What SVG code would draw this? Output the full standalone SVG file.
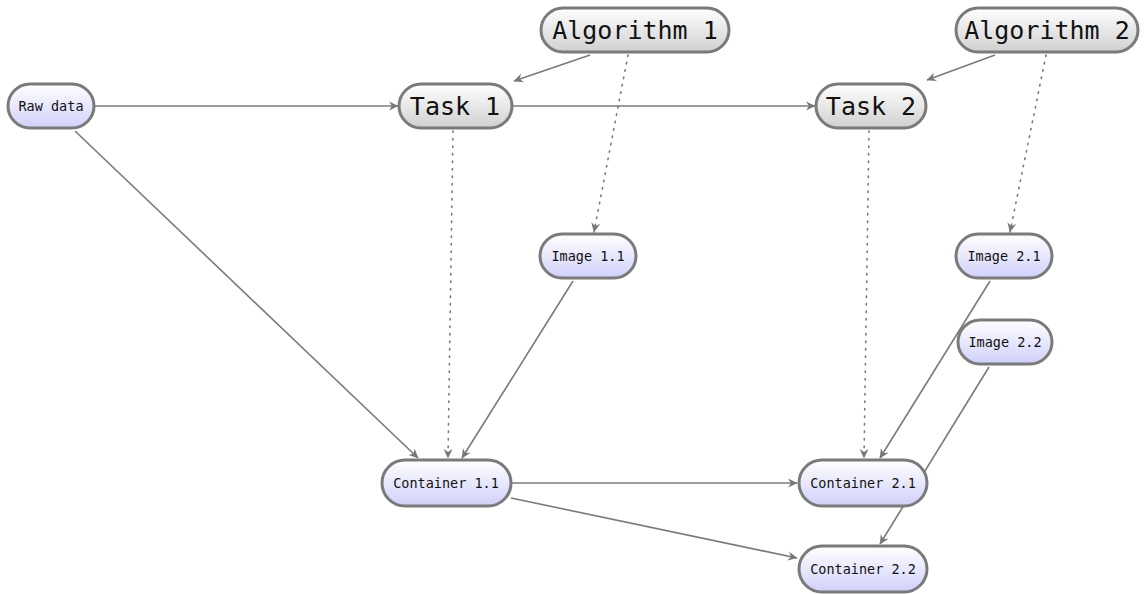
<svg xmlns="http://www.w3.org/2000/svg" width="1146" height="594" viewBox="0 0 1146 594">
<defs>
<linearGradient id="gBlue" x1="0" y1="0" x2="0" y2="1"><stop offset="0" stop-color="#ffffff"/><stop offset="1" stop-color="#d0d0fa"/></linearGradient>
<linearGradient id="gGrey" x1="0" y1="0" x2="0" y2="1"><stop offset="0" stop-color="#ffffff"/><stop offset="1" stop-color="#d0d0d0"/></linearGradient>
<marker id="arr" viewBox="0 0 10 10" refX="9" refY="5" markerWidth="10" markerHeight="10" markerUnits="userSpaceOnUse" orient="auto"><path d="M0,0.5 L9.5,5 L0,9.5 L3,5 Z" fill="#777"/></marker>
</defs>
<style>
.e{stroke:#7a7a7a;stroke-width:1.6;fill:none;marker-end:url(#arr)}
.d{stroke-dasharray:1.5 6;stroke-linecap:round}
.b{fill:url(#gBlue);stroke:#7a7a7a;stroke-width:3}
.g{fill:url(#gGrey);stroke:#7a7a7a;stroke-width:3}
.s{font-family:"DejaVu Sans Mono",monospace;font-size:13.5px;fill:#111;text-anchor:middle;dominant-baseline:central}
.l{font-family:"DejaVu Sans Mono",monospace;font-size:25px;fill:#111;text-anchor:middle;dominant-baseline:central}
</style>
<g id="edges">
<line class="e" x1="94" y1="106" x2="398" y2="106"/>
<line class="e" x1="590" y1="55" x2="514" y2="81"/>
<line class="e" x1="513" y1="106" x2="815" y2="106"/>
<line class="e" x1="995" y1="55" x2="927" y2="80"/>
<line class="e d" x1="628" y1="55" x2="594" y2="232"/>
<line class="e d" x1="453" y1="131" x2="448" y2="458"/>
<line class="e" x1="75" y1="131" x2="418" y2="458"/>
<line class="e" x1="573" y1="281" x2="462" y2="458"/>
<line class="e d" x1="1046" y1="55" x2="1010" y2="232"/>
<line class="e d" x1="869" y1="131" x2="864" y2="458"/>
<line class="e" x1="990" y1="281" x2="880" y2="458"/>
<line class="e" x1="989" y1="367" x2="880" y2="544"/>
<line class="e" x1="512" y1="483" x2="797" y2="483"/>
<line class="e" x1="511" y1="498" x2="797" y2="558"/>
</g>
<g id="rawdata"><rect class="b" x="8" y="84" width="86" height="44" rx="22"/><text class="s" x="51" y="106">Raw data</text></g>
<g id="alg1"><rect class="g" x="541" y="8" width="188" height="44" rx="22"/><text class="l" x="635" y="30">Algorithm 1</text></g>
<g id="task1"><rect class="g" x="399" y="84" width="113" height="44" rx="22"/><text class="l" x="455" y="106">Task 1</text></g>
<g id="alg2"><rect class="g" x="956" y="8" width="182" height="44" rx="22"/><text class="l" x="1047" y="30">Algorithm 2</text></g>
<g id="task2"><rect class="g" x="816" y="84" width="110" height="44" rx="22"/><text class="l" x="871" y="106">Task 2</text></g>
<g id="img11"><rect class="b" x="540" y="234" width="96" height="44" rx="22"/><text class="s" x="588" y="256">Image 1.1</text></g>
<g id="img21"><rect class="b" x="956" y="234" width="96" height="44" rx="22"/><text class="s" x="1004" y="256">Image 2.1</text></g>
<g id="img22"><rect class="b" x="958" y="320" width="94" height="44" rx="22"/><text class="s" x="1005" y="342">Image 2.2</text></g>
<g id="c11"><rect class="b" x="382" y="460" width="129" height="46" rx="23"/><text class="s" x="446" y="483">Container 1.1</text></g>
<g id="c21"><rect class="b" x="799" y="460" width="128" height="46" rx="23"/><text class="s" x="863" y="483">Container 2.1</text></g>
<g id="c22"><rect class="b" x="799" y="546" width="128" height="46" rx="23"/><text class="s" x="863" y="569">Container 2.2</text></g>
</svg>
